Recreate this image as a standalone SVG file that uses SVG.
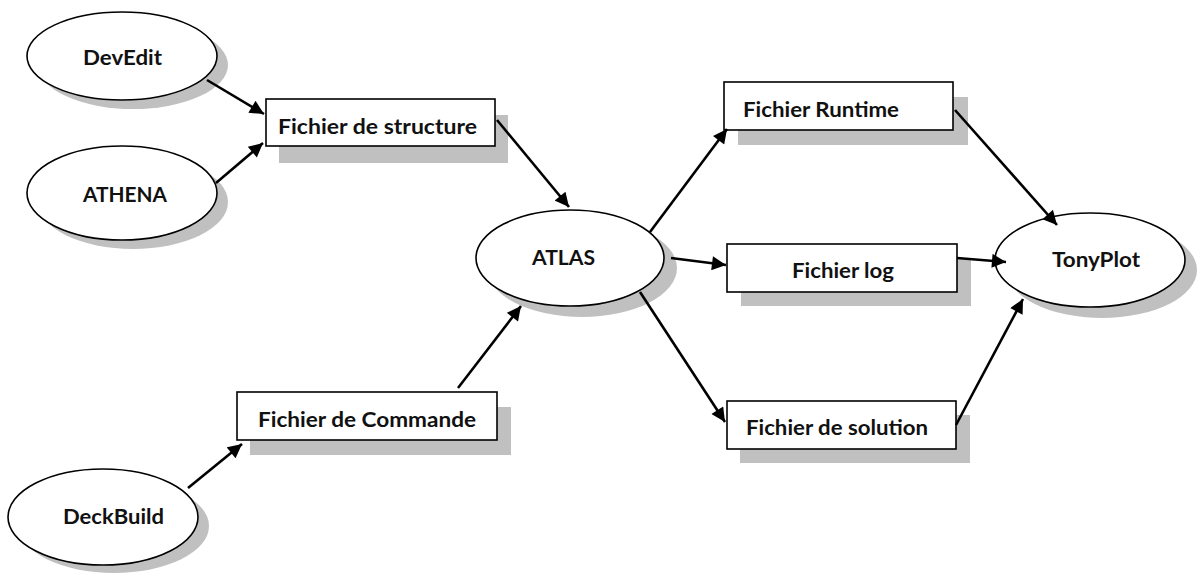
<svg xmlns="http://www.w3.org/2000/svg" width="1204" height="573" viewBox="0 0 1204 573">
<defs>
<style>
.shadow{fill:#c0c0c0;stroke:none}
.node{fill:#fff;stroke:#000;stroke-width:1.6}
.lbl{font-family:Lato,"Open Sans","Liberation Sans",sans-serif;font-weight:bold;font-size:20.5px;fill:#111}
.edge{stroke:#000;stroke-width:2.6;fill:none;marker-end:url(#ah)}
</style>
<marker id="ah" viewBox="0 0 10 10" refX="10" refY="5" markerWidth="6" markerHeight="5.4" markerUnits="strokeWidth" orient="auto">
<path d="M0,0 L10,5 L0,10 z" fill="#000"/>
</marker>
</defs>
<rect width="1204" height="573" fill="#fff"/>

<g id="devedit">
<ellipse class="shadow" cx="133" cy="65" rx="95" ry="44"/>
<ellipse class="node" cx="122" cy="56" rx="95" ry="44"/>
<text class="lbl" x="83" y="65" textLength="79" lengthAdjust="spacingAndGlyphs">DevEdit</text>
</g>
<g id="athena">
<ellipse class="shadow" cx="133" cy="202" rx="95" ry="47"/>
<ellipse class="node" cx="122" cy="193" rx="95" ry="47"/>
<text class="lbl" x="83" y="202" textLength="84" lengthAdjust="spacingAndGlyphs">ATHENA</text>
</g>
<g id="deckbuild">
<ellipse class="shadow" cx="114" cy="526" rx="95" ry="47"/>
<ellipse class="node" cx="103" cy="517" rx="95" ry="48"/>
<text class="lbl" x="63" y="524" textLength="101" lengthAdjust="spacingAndGlyphs">DeckBuild</text>
</g>
<g id="structure">
<rect class="shadow" x="279" y="115" width="229" height="48"/>
<rect class="node" x="266" y="99" width="229" height="47"/>
<text class="lbl" x="278" y="134" textLength="199" lengthAdjust="spacingAndGlyphs">Fichier de structure</text>
</g>
<g id="commande">
<rect class="shadow" x="250" y="407" width="261" height="48"/>
<rect class="node" x="237" y="392" width="260" height="48"/>
<text class="lbl" x="258" y="427" textLength="218" lengthAdjust="spacingAndGlyphs">Fichier de Commande</text>
</g>
<g id="atlas">
<ellipse class="shadow" cx="582" cy="268" rx="95" ry="49"/>
<ellipse class="node" cx="570" cy="258" rx="94" ry="48"/>
<text class="lbl" x="532" y="265" textLength="63" lengthAdjust="spacingAndGlyphs">ATLAS</text>
</g>
<g id="runtime">
<rect class="shadow" x="738" y="97" width="230" height="48"/>
<rect class="node" x="724" y="82" width="229" height="48"/>
<text class="lbl" x="743" y="117" textLength="156" lengthAdjust="spacingAndGlyphs">Fichier Runtime</text>
</g>
<g id="log">
<rect class="shadow" x="741" y="258" width="230" height="48"/>
<rect class="node" x="727" y="244" width="230" height="48"/>
<text class="lbl" x="792" y="278" textLength="102" lengthAdjust="spacingAndGlyphs">Fichier log</text>
</g>
<g id="solution">
<rect class="shadow" x="740" y="415" width="230" height="48"/>
<rect class="node" x="727" y="401" width="229" height="48"/>
<text class="lbl" x="746" y="435" textLength="182" lengthAdjust="spacingAndGlyphs">Fichier de solution</text>
</g>
<g id="tonyplot">
<ellipse class="shadow" cx="1102" cy="270" rx="95" ry="48"/>
<ellipse class="node" cx="1090" cy="260" rx="95" ry="47"/>
<text class="lbl" x="1052" y="267" textLength="88" lengthAdjust="spacingAndGlyphs">TonyPlot</text>
</g>

<g id="connectors">
<line class="edge" x1="207" y1="80" x2="264" y2="114"/>
<line class="edge" x1="216" y1="183" x2="263" y2="143"/>
<line class="edge" x1="497" y1="120" x2="569" y2="207"/>
<line class="edge" x1="188" y1="488" x2="242" y2="444"/>
<line class="edge" x1="458" y1="388" x2="521" y2="306"/>
<line class="edge" x1="650" y1="232" x2="727" y2="129"/>
<line class="edge" x1="671" y1="258" x2="726" y2="265"/>
<line class="edge" x1="640" y1="292" x2="725" y2="422"/>
<line class="edge" x1="955" y1="110" x2="1057" y2="225"/>
<line class="edge" x1="957" y1="258" x2="1006" y2="262"/>
<line class="edge" x1="956" y1="425" x2="1023" y2="299"/>
</g>
</svg>
